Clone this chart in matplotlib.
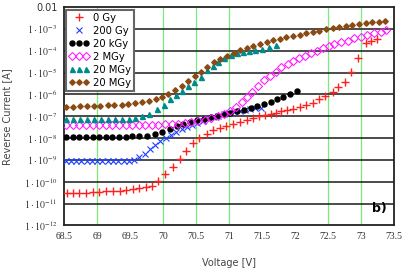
import matplotlib
matplotlib.use('Agg')
import matplotlib.pyplot as plt
from matplotlib.ticker import NullLocator, FixedLocator
from matplotlib.legend_handler import HandlerLine2D

plt.rcParams['font.family'] = ['DejaVu Sans']
plt.rcParams['mathtext.fontset'] = 'stix'

# 0 Gy
v_0gy = [68.54, 68.63, 68.73, 68.83, 68.93, 69.03, 69.13, 69.24, 69.34, 69.44, 69.54, 69.64,
         69.74, 69.83, 69.93, 70.03, 70.15, 70.25, 70.35, 70.45, 70.55, 70.66, 70.76, 70.86,
         70.96, 71.06, 71.16, 71.27, 71.37, 71.46, 71.55, 71.63, 71.71, 71.79, 71.88, 71.97,
         72.07, 72.16, 72.27, 72.37, 72.46, 72.57, 72.66, 72.76, 72.85, 72.95, 73.08, 73.16, 73.25]
i_0gy = [2.95e-11, 3.02e-11, 3.16e-11, 3.24e-11, 3.39e-11, 3.55e-11, 3.63e-11, 3.80e-11, 3.89e-11,
         4.17e-11, 4.47e-11, 5.01e-11, 5.75e-11, 6.76e-11, 1.12e-10, 2.19e-10, 5.01e-10, 1.15e-9,
         2.63e-9, 5.89e-9, 1.0e-8, 1.58e-8, 2.29e-8, 2.95e-8, 3.63e-8, 4.47e-8, 5.37e-8, 6.61e-8,
         8.32e-8, 1.0e-7, 1.15e-7, 1.32e-7, 1.45e-7, 1.66e-7, 1.91e-7, 2.19e-7, 2.63e-7, 3.24e-7,
         4.17e-7, 5.89e-7, 8.71e-7, 1.29e-6, 2.19e-6, 3.72e-6, 1.12e-5, 4.79e-5, 2.29e-4, 2.95e-4, 3.31e-4]

# 200 Gy
v_200gy = [68.52, 68.60, 68.68, 68.76, 68.84, 68.92, 69.00, 69.08, 69.16, 69.24, 69.32, 69.40, 69.48,
           69.56, 69.64, 69.72, 69.80, 69.88, 69.96, 70.04, 70.12, 70.20, 70.28, 70.36, 70.44, 70.52,
           70.60, 70.68, 70.76, 70.84, 70.92, 71.00, 71.08, 71.16, 71.24, 71.32, 71.40, 71.48]
i_200gy = [8.6e-10, 8.7e-10, 8.6e-10, 8.7e-10, 8.7e-10, 8.6e-10, 8.7e-10, 8.7e-10, 8.6e-10, 8.7e-10,
           8.8e-10, 8.8e-10, 8.9e-10, 1.0e-9, 1.32e-9, 1.91e-9, 3.02e-9, 4.68e-9, 7.08e-9, 1.02e-8,
           1.45e-8, 2.0e-8, 2.63e-8, 3.31e-8, 4.07e-8, 5.01e-8, 6.17e-8, 7.41e-8, 8.91e-8, 1.05e-7,
           1.23e-7, 1.41e-7, 1.58e-7, 1.78e-7, 1.95e-7, 2.14e-7, 2.29e-7, 2.45e-7]

# 20 kGy
v_20kgy = [68.53, 68.63, 68.73, 68.83, 68.93, 69.03, 69.13, 69.23, 69.33, 69.43, 69.53, 69.63,
           69.75, 69.88, 69.99, 70.11, 70.21, 70.30, 70.41, 70.52, 70.62, 70.72, 70.82, 70.92,
           71.02, 71.12, 71.22, 71.33, 71.43, 71.53, 71.63, 71.72, 71.82, 71.93, 72.03]
i_20kgy = [1.15e-8, 1.15e-8, 1.15e-8, 1.15e-8, 1.15e-8, 1.15e-8, 1.16e-8, 1.16e-8, 1.17e-8, 1.18e-8,
           1.19e-8, 1.22e-8, 1.29e-8, 1.48e-8, 1.95e-8, 2.69e-8, 3.55e-8, 4.37e-8, 5.37e-8, 6.46e-8,
           7.59e-8, 9.12e-8, 1.05e-7, 1.26e-7, 1.48e-7, 1.70e-7, 2.04e-7, 2.51e-7, 3.02e-7, 3.72e-7,
           4.57e-7, 5.89e-7, 7.76e-7, 1.02e-6, 1.41e-6]

# 2 MGy
v_2mgy = [68.53, 68.63, 68.73, 68.83, 68.93, 69.03, 69.13, 69.23, 69.33, 69.43, 69.53, 69.63,
          69.73, 69.83, 69.93, 70.03, 70.13, 70.23, 70.33, 70.43, 70.53, 70.63, 70.73, 70.83,
          70.93, 71.02, 71.11, 71.19, 71.27, 71.35, 71.44, 71.53, 71.62, 71.71, 71.79, 71.89,
          71.97, 72.06, 72.15, 72.24, 72.33, 72.42, 72.51, 72.59, 72.70, 72.80, 72.90, 73.00,
          73.10, 73.20, 73.31, 73.38]
i_2mgy = [4.2e-8, 4.2e-8, 4.2e-8, 4.2e-8, 4.2e-8, 4.2e-8, 4.2e-8, 4.2e-8, 4.2e-8, 4.2e-8,
          4.2e-8, 4.2e-8, 4.2e-8, 4.2e-8, 4.2e-8, 4.25e-8, 4.3e-8, 4.37e-8, 4.68e-8, 5.25e-8,
          6.03e-8, 7.08e-8, 8.51e-8, 1.05e-7, 1.32e-7, 1.74e-7, 2.63e-7, 4.37e-7, 7.59e-7, 1.32e-6,
          2.40e-6, 4.57e-6, 7.24e-6, 1.10e-5, 1.74e-5, 2.40e-5, 3.39e-5, 4.47e-5, 5.75e-5, 7.59e-5,
          1.0e-4, 1.29e-4, 1.66e-4, 2.04e-4, 2.40e-4, 2.88e-4, 3.72e-4, 4.37e-4, 5.25e-4, 6.31e-4,
          7.41e-4, 8.91e-4]

# 20 MGy (triangles)
v_20mgy_a = [68.52, 68.63, 68.74, 68.84, 68.95, 69.06, 69.16, 69.27, 69.38, 69.48, 69.58, 69.68,
             69.79, 69.90, 70.01, 70.10, 70.20, 70.29, 70.38, 70.47, 70.57, 70.67, 70.76, 70.84,
             70.93, 71.03, 71.12, 71.21, 71.30, 71.40, 71.50, 71.60, 71.71]
i_20mgy_a = [7.2e-8, 7.2e-8, 7.2e-8, 7.2e-8, 7.2e-8, 7.3e-8, 7.3e-8, 7.4e-8, 7.5e-8, 7.7e-8,
             8.1e-8, 1.0e-7, 1.32e-7, 2.24e-7, 3.16e-7, 6.31e-7, 9.12e-7, 1.51e-6, 2.40e-6, 3.80e-6,
             6.61e-6, 1.26e-5, 2.09e-5, 3.16e-5, 4.57e-5, 6.31e-5, 7.59e-5, 8.71e-5, 9.55e-5, 1.07e-4,
             1.20e-4, 1.45e-4, 1.82e-4]

# 20 MGy (diamonds)
v_20mgy_b = [68.53, 68.63, 68.74, 68.84, 68.95, 69.05, 69.16, 69.26, 69.37, 69.47, 69.58, 69.68,
             69.79, 69.89, 69.99, 70.08, 70.18, 70.28, 70.38, 70.48, 70.57, 70.67, 70.77, 70.87,
             70.97, 71.07, 71.17, 71.27, 71.37, 71.47, 71.57, 71.67, 71.77, 71.87, 71.97, 72.07,
             72.17, 72.27, 72.37, 72.47, 72.57, 72.67, 72.77, 72.87, 72.97, 73.07, 73.17, 73.27, 73.37]
i_20mgy_b = [2.75e-7, 2.75e-7, 2.82e-7, 2.88e-7, 2.95e-7, 3.02e-7, 3.16e-7, 3.24e-7, 3.39e-7,
             3.63e-7, 3.98e-7, 4.37e-7, 4.90e-7, 5.89e-7, 7.59e-7, 1.07e-6, 1.58e-6, 2.45e-6,
             3.98e-6, 6.76e-6, 1.12e-5, 1.86e-5, 2.95e-5, 4.27e-5, 6.03e-5, 8.32e-5, 1.10e-4,
             1.35e-4, 1.66e-4, 2.04e-4, 2.51e-4, 3.09e-4, 3.63e-4, 4.17e-4, 4.79e-4, 5.50e-4,
             6.31e-4, 7.24e-4, 8.32e-4, 9.55e-4, 1.10e-3, 1.23e-3, 1.38e-3, 1.55e-3, 1.70e-3,
             1.86e-3, 2.04e-3, 2.19e-3, 2.40e-3]

x_ticks = [68.5, 69, 69.5, 70, 70.5, 71, 71.5, 72, 72.5, 73, 73.5]
x_tick_labels = ['68.5', '69', '69.5', '70', '70.5', '71', '71.5', '72', '72.5', '73', '73.5']
y_ticks = [1e-12, 1e-11, 1e-10, 1e-9, 1e-8, 1e-7, 1e-6, 1e-5, 1e-4, 1e-3, 1e-2]
y_tick_labels = [r'$1\cdot10^{-%d}$' % n for n in range(12, 2, -1)] + ['0.01']
green_lines = [69, 70, 70.5, 71, 72.5, 73]

fig = plt.figure(figsize=(4.09, 2.73), dpi=100)
ax = fig.add_axes([0.157, 0.174, 0.806, 0.8])

for gx in green_lines:
    ax.axvline(gx, color='#7be87b', lw=0.9, zorder=1)
for gy in y_ticks[1:-1]:
    ax.axhline(gy, color='#1a1a1a', lw=1.1, zorder=1)

h0, = ax.plot(v_0gy, i_0gy, ls='none', marker='+', ms=6, mew=1.0, color='#ff2020', label='0 Gy', zorder=3)
h1, = ax.plot(v_200gy, i_200gy, ls='none', marker='x', ms=4.5, mew=0.8, color='#2040ff', label='200 Gy', zorder=3)
h2, = ax.plot(v_20kgy, i_20kgy, ls='none', marker='o', ms=3.6, color='black', label='20 kGy', zorder=3)
h3, = ax.plot(v_2mgy, i_2mgy, ls='none', marker='D', ms=3.8, mew=0.8, mfc='none', color='#ff20ff', label='2 MGy', zorder=3)
h4, = ax.plot(v_20mgy_a, i_20mgy_a, ls='none', marker='^', ms=3.6, color='#008b8b', label='20 MGy', zorder=3)
h5, = ax.plot(v_20mgy_b, i_20mgy_b, ls='none', marker='D', ms=2.8, color='#8b4a13', label='20 MGy', zorder=4)

ax.set_yscale('log')
ax.set_xlim(68.5, 73.5)
ax.set_ylim(1e-12, 1e-2)
ax.yaxis.set_major_locator(FixedLocator(y_ticks))
ax.yaxis.set_minor_locator(NullLocator())
ax.set_yticklabels(y_tick_labels)
ax.set_xticks(x_ticks)
ax.set_xticklabels(x_tick_labels, family='Liberation Serif')
ax.tick_params(length=0, labelsize=7, colors='#333333', pad=5)

for s in ax.spines.values():
    s.set_color('#222222')
    s.set_linewidth(1.3)

ax.set_xlabel('Voltage [V]', fontsize=7, color='#444444', labelpad=12)
ax.set_ylabel('Reverse Current [A]', fontsize=7, color='#444444', labelpad=8)

leg = ax.legend(handles=[h0, h1, h2, h3, h4, h5], loc='upper left', bbox_to_anchor=(0.005, 0.988),
                borderaxespad=0, fontsize=7.2, numpoints=3, handlelength=2.0, handletextpad=0.4,
                labelspacing=0.3, borderpad=0.3, fancybox=False, framealpha=1,
                handler_map={h0: HandlerLine2D(numpoints=1), h1: HandlerLine2D(numpoints=1)})
leg.get_frame().set_edgecolor('#666666')
leg.get_frame().set_linewidth(1.5)

ax.text(0.955, 0.05, 'b)', transform=ax.transAxes, fontsize=9, fontweight='bold', ha='center', va='bottom')

fig.savefig('out.png', dpi=100)
